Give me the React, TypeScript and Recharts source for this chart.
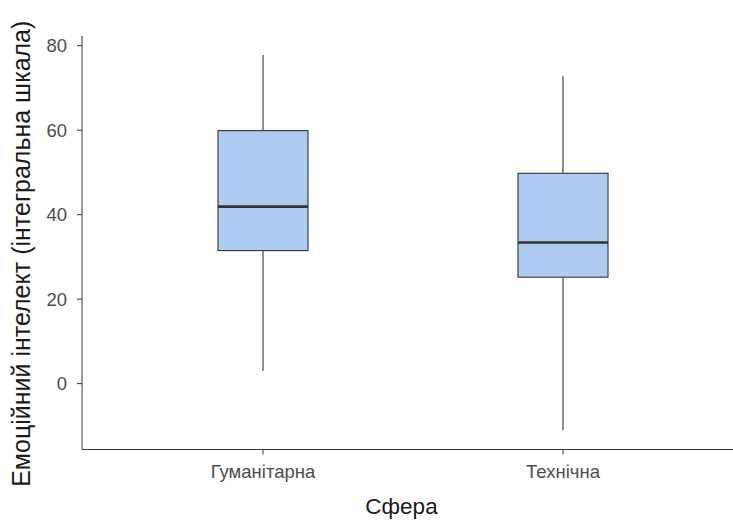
import { ComposedChart, Bar, XAxis, YAxis } from 'recharts'

const categories = ['Гуманітарна', 'Технічна']
const whiskerLow = [3.0, -11.0]
const q1 = [31.5, 25.2]
const median = [41.9, 33.4]
const q3 = [59.9, 49.8]
const whiskerHigh = [77.8, 72.8]
const yTicks = [0, 20, 40, 60, 80]

const data = categories.map((sphere, i) => ({
  sphere,
  range: [whiskerLow[i], whiskerHigh[i]],
  q1: q1[i],
  median: median[i],
  q3: q3[i],
}))

const axisColor = '#333333'
const boxFill = '#aecbf2'

/** Draws a full box-and-whisker from the range bar rectangle. */
function BoxShape(props: any) {
  const { x, y, width, height, payload } = props
  const top = Math.min(y, y + height)
  const bottom = Math.max(y, y + height)
  const [lo, hi] = payload.range
  const toPx = (v: number) => top + ((hi - v) / (hi - lo)) * (bottom - top)
  const cx = x + width / 2
  const yQ1 = toPx(payload.q1)
  const yQ3 = toPx(payload.q3)
  const yMed = toPx(payload.median)
  return (
    <g>
      <line x1={cx} x2={cx} y1={top} y2={yQ3} stroke={axisColor} strokeWidth={1.1} />
      <line x1={cx} x2={cx} y1={yQ1} y2={bottom} stroke={axisColor} strokeWidth={1.1} />
      <rect x={x} y={yQ3} width={width} height={yQ1 - yQ3} fill={boxFill} stroke={axisColor} strokeWidth={1.1} />
      <line x1={x} x2={x + width} y1={yMed} y2={yMed} stroke={axisColor} strokeWidth={2.6} />
    </g>
  )
}

export default function App() {
  return (
    <div style={{ position: 'fixed', left: 0, top: 0, background: '#fff' }}>
      <ComposedChart
        width={733}
        height={523}
        data={data}
        margin={{ top: 36, right: 0, bottom: 0, left: 0 }}
        style={{ fontFamily: '"Liberation Sans", Arial, sans-serif' }}
      >
        <XAxis
          dataKey="sphere"
          type="category"
          padding={{ left: 31, right: 20 }}
          height={73.5}
          stroke={axisColor}
          tickSize={5}
          tickMargin={10.5}
          tick={{ fill: '#4d4d4d', fontSize: 18.5 }}
          label={{ value: 'Сфера', position: 'insideBottom', offset: 9, dx: -6, fill: '#1a1a1a', fontSize: 22.5 }}
        />
        <YAxis
          type="number"
          domain={[-15.6, 82.3]}
          ticks={yTicks}
          allowDataOverflow
          width={82}
          stroke={axisColor}
          tickSize={5}
          tickMargin={10}
          tick={{ fill: '#4d4d4d', fontSize: 18.5 }}
          label={{
            value: 'Емоційний інтелект (інтегральна шкала)',
            angle: -90,
            position: 'insideLeft',
            offset: 21,
            dy: 11,
            fill: '#1a1a1a',
            fontSize: 25,
            style: { textAnchor: 'middle' },
          }}
        />
        <Bar dataKey="range" barSize={90} shape={BoxShape} isAnimationActive={false} />
      </ComposedChart>
    </div>
  )
}
